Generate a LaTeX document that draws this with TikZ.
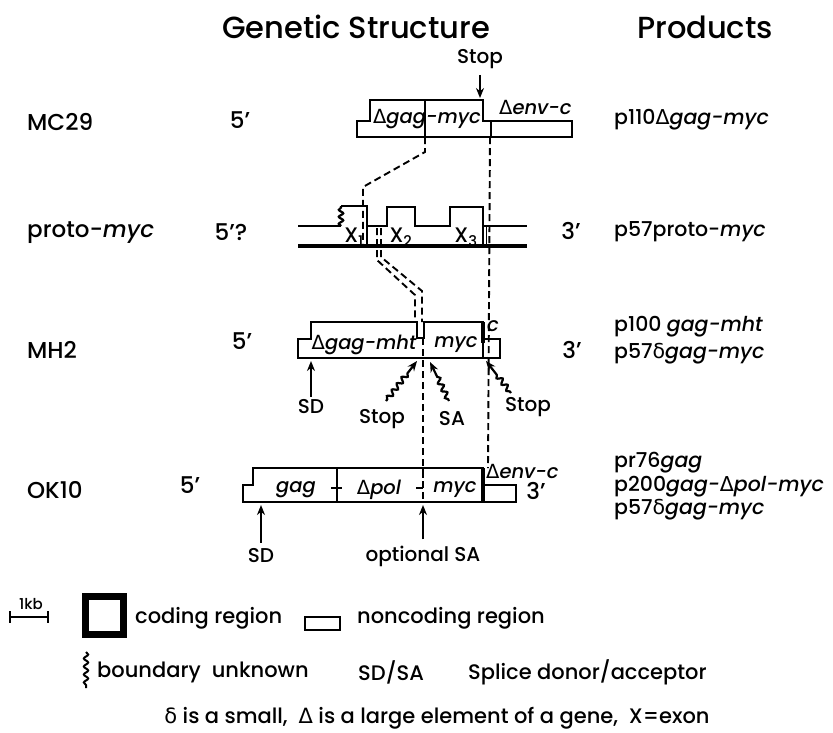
\documentclass[tikz,border=0pt]{standalone}
\usepackage{fontspec}
\setmainfont{Poppins}[UprightFont={* Medium}, ItalicFont={* Medium Italic}]
\newfontfamily\dvfont{DejaVu Sans}
\usetikzlibrary{arrows.meta,decorations.pathmorphing}
\newcommand\myDelta{{\dvfont Δ}}
\newcommand\mydelta{{\dvfont δ}}
\begin{document}
\begin{tikzpicture}[x=1pt,y=-1pt,
  gene/.style={line width=2.3pt, line join=miter},
  thickline/.style={line width=3.6pt},
  conn/.style={line width=1.9pt, dash pattern=on 7pt off 4pt},
  arr/.style={line width=2.2pt, -{Stealth[length=10pt,width=8pt]}},
  warr/.style={line width=2.2pt, -{Stealth[length=10pt,width=8pt]}, decorate,
     decoration={snake, amplitude=2.4pt, segment length=8pt, pre length=2pt, post length=15pt}},
  wavy/.style={line width=2.2pt, decorate, decoration={snake, amplitude=2.2pt, segment length=7pt}},
  title/.style={inner sep=0pt, font=\fontsize{30.5}{32}\selectfont},
  rowlbl/.style={inner sep=0pt, font=\fontsize{23}{25}\selectfont},
  prod/.style={inner sep=0pt, anchor=west, font=\fontsize{20.5}{22}\selectfont},
  inbox/.style={inner sep=0pt, font=\fontsize{19.5}{21}\selectfont\itshape},
  xl/.style={inner sep=0pt, font=\fontsize{21}{23}\selectfont},
  lbl/.style={inner sep=0pt, font=\fontsize{20}{22}\selectfont},
  leg/.style={inner sep=0pt, anchor=west, font=\fontsize{21}{23}\selectfont}
]
\useasboundingbox (0,0) rectangle (833,732);

% titles
\node[title] (t1) at (356,27) {Genetic Structure};
\node[title] (t2) at (705,27) {Products};

% row labels
\node[rowlbl, anchor=west] (mc29) at (27,122) {MC29};
\node[rowlbl, anchor=west] (proto) at (27,233) {proto-\textit{myc}};
\node[rowlbl, anchor=west] (mh2) at (27,350) {MH2};
\node[rowlbl, anchor=west] (ok10) at (27,490) {OK10};

\node[rowlbl] (mc5) at (240,120) {5'};
\node[rowlbl] (pr5) at (231,232) {5'?};
\node[rowlbl] (pr3) at (571,231) {3'};
\node[rowlbl] (mh5) at (242,341) {5'};
\node[rowlbl] (mh3) at (572,350) {3'};
\node[rowlbl] (ok5) at (190,485) {5'};
\node[rowlbl] (ok3) at (536,491) {3'};

% products
\node[prod] (p1) at (614,120) {p110\myDelta\textit{gag-myc}};
\node[prod] (p2) at (614,232) {p57proto-\textit{myc}};
\node[prod] (p3) at (614,327) {p100 \textit{gag-mht}};
\node[prod] (p4) at (614,354) {p57\mydelta\textit{gag-myc}};
\node[prod] (p5) at (614,463) {pr76\textit{gag}};
\node[prod] (p6) at (614,487) {p200\textit{gag-}\myDelta\textit{pol-myc}};
\node[prod] (p7) at (614,510) {p57\mydelta\textit{gag-myc}};

% ---------- MC29 ----------
\draw[gene] (357,137) -- (357,121) -- (370,121) -- (370,100) -- (483,100) -- (483,121) -- (572,121) -- (572,137) -- cycle;
\draw[gene, line width=1.4pt] (425,100) -- (425,137);
\draw[gene] (491,121) -- (491,137);
\node[inbox] (mcg) at (427,119) {{\upshape\myDelta}gag-myc};
\node[inbox, anchor=west] (mce) at (499,107) {{\upshape\myDelta}env-c};
\node[lbl] (stop1) at (480,59) {Stop};
\coordinate (mcstop) at (480,98);
\draw[arr, shorten <=6pt] (stop1.south) -- (mcstop);

% ---------- proto-myc ----------
\draw[gene] (298,226) -- (341,226);
\draw[wavy] (341,226) -- (341,206);
\draw[gene] (341,206) -- (367,206) -- (367,246);
\draw[gene] (367,226) -- (387,226) -- (387,207) -- (415,207) -- (415,226) -- (450,226) -- (450,207) -- (483,207) -- (483,246);
\draw[gene] (483,226) -- (527,226);
\draw[gene, line width=1.4pt] (486.5,226) -- (486.5,246);
\draw[gene, line width=3.2pt] (298,246) -- (527,246);
\node[xl] (x1) at (354,237) {X\textsubscript{1}};
\node[xl] (x2) at (401,237) {X\textsubscript{2}};
\node[xl] (x3) at (466,237) {X\textsubscript{3}};

% ---------- MH2 ----------
\draw[gene] (298,358) -- (298,339) -- (311,339) -- (311,322) -- (417,322) -- (417,338) -- (424,338) -- (424,322) -- (483,322) -- (483,339) -- (500,339) -- (500,358) -- cycle;
\draw[thickline] (483,322) -- (483,343);
\draw[gene] (483,339) -- (483,358);
\node[inbox] (mhg) at (364,345) {{\upshape\myDelta}gag-mht};
\node[inbox] (mhm) at (456,345) {myc};
\node[inbox] (mhc) at (493,326) {c};

\coordinate (sd1h) at (311,361);
\node[lbl] (sd1) at (311,407) {SD};
\draw[arr, shorten <=3pt] (sd1.north) -- (sd1h);
\coordinate (st1h) at (417,361);
\coordinate (st1t) at (386,401);
\node[lbl] (st1) at (382,419) {Stop};
\draw[warr] (st1t) -- (st1h);
\coordinate (sa1h) at (430,362);
\coordinate (sa1t) at (449,401);
\node[lbl] (sa1) at (452,419) {SA};
\draw[warr] (sa1t) -- (sa1h);
\coordinate (st2h) at (486,361);
\coordinate (st2t) at (511,393);
\node[lbl] (st2) at (528,407) {Stop};
\draw[warr] (st2t) -- (st2h);

% ---------- OK10 ----------
\draw[gene] (243,502) -- (243,485) -- (253,485) -- (253,468) -- (483,468) -- (483,485) -- (516,485) -- (516,502) -- cycle;
\draw[thickline] (483,468) -- (483,502);
\draw[gene] (337,468) -- (337,502);
\draw[gene] (331,488) -- (342,488);
\draw[gene] (423,468) -- (423,478);
\draw[gene] (416,488) -- (423,488);
\node[inbox] (okg) at (296,490) {gag};
\node[inbox] (okp) at (379,490) {{\upshape\myDelta}pol};
\node[inbox] (okm) at (455,490) {myc};
\node[inbox, anchor=west] (oke) at (486,471) {{\upshape\myDelta}env-c};

\coordinate (sd2h) at (261,505);
\node[lbl] (sd2) at (261,556) {SD};
\draw[arr, shorten <=6pt] (sd2.north) -- (sd2h);
\coordinate (sa2h) at (423,505);
\node[lbl] (sa2) at (423,556) {optional SA};
\draw[arr, shorten <=6pt] (sa2.north) -- (sa2h);

% ---------- connectors ----------
\coordinate (c1a) at (425,137);
\coordinate (c1b) at (425,152);
\coordinate (c1c) at (363,187);
\coordinate (c1d) at (363,246);
\draw[conn] (c1a) -- (c1b) -- (c1c) -- (c1d);

\coordinate (c2a) at (490,137);
\coordinate (c2b) at (488,468);
\draw[conn] (c2a) -- (c2b);

\coordinate (d1a) at (377,228);
\coordinate (d1b) at (377,260);
\coordinate (d1c) at (415,295);
\coordinate (d1d) at (415,322);
\draw[conn] (d1a) -- (d1b) -- (d1c) -- (d1d);
\coordinate (d2a) at (381,228);
\coordinate (d2b) at (381,257);
\coordinate (d2c) at (422,291);
\coordinate (d2d) at (422,322);
\draw[conn] (d2a) -- (d2b) -- (d2c) -- (d2d);

\coordinate (c3a) at (423,338);
\coordinate (c3b) at (423,502);
\draw[conn] (c3a) -- (c3b);

% ---------- legend ----------
\coordinate (kbl) at (10,617);
\coordinate (kbr) at (48,617);
\draw[line width=2pt] (kbl) -- (kbr);
\draw[line width=2pt] (10,611) -- (10,623);
\draw[line width=2pt] (48,611) -- (48,623);
\node[inner sep=0pt, font=\fontsize{15}{16}\selectfont] (kb) at (31,604) {1kb};

\draw[line width=7pt] (85.5,596.5) rectangle (123.5,634.5);
\node[leg] (cod) at (135,618) {coding region};
\draw[gene] (305,617) rectangle (340,630);
\node[leg] (noncod) at (357,618) {noncoding region};

\draw[wavy, line width=2pt, decoration={snake, amplitude=2.2pt, segment length=8pt}] (86,652) -- (86,688);
\node[leg] (bu) at (97,672) {boundary\ \ unknown};
\node[leg] (sdsa) at (358,672) {SD/SA};
\node[leg] (splice) at (468,672) {Splice donor/acceptor};
\node[leg, anchor=center] (foot) at (437,718) {\mydelta{} is a small,\ \ \myDelta{} is a large element of a gene,\ \ X=exon};
\end{tikzpicture}
\end{document}
